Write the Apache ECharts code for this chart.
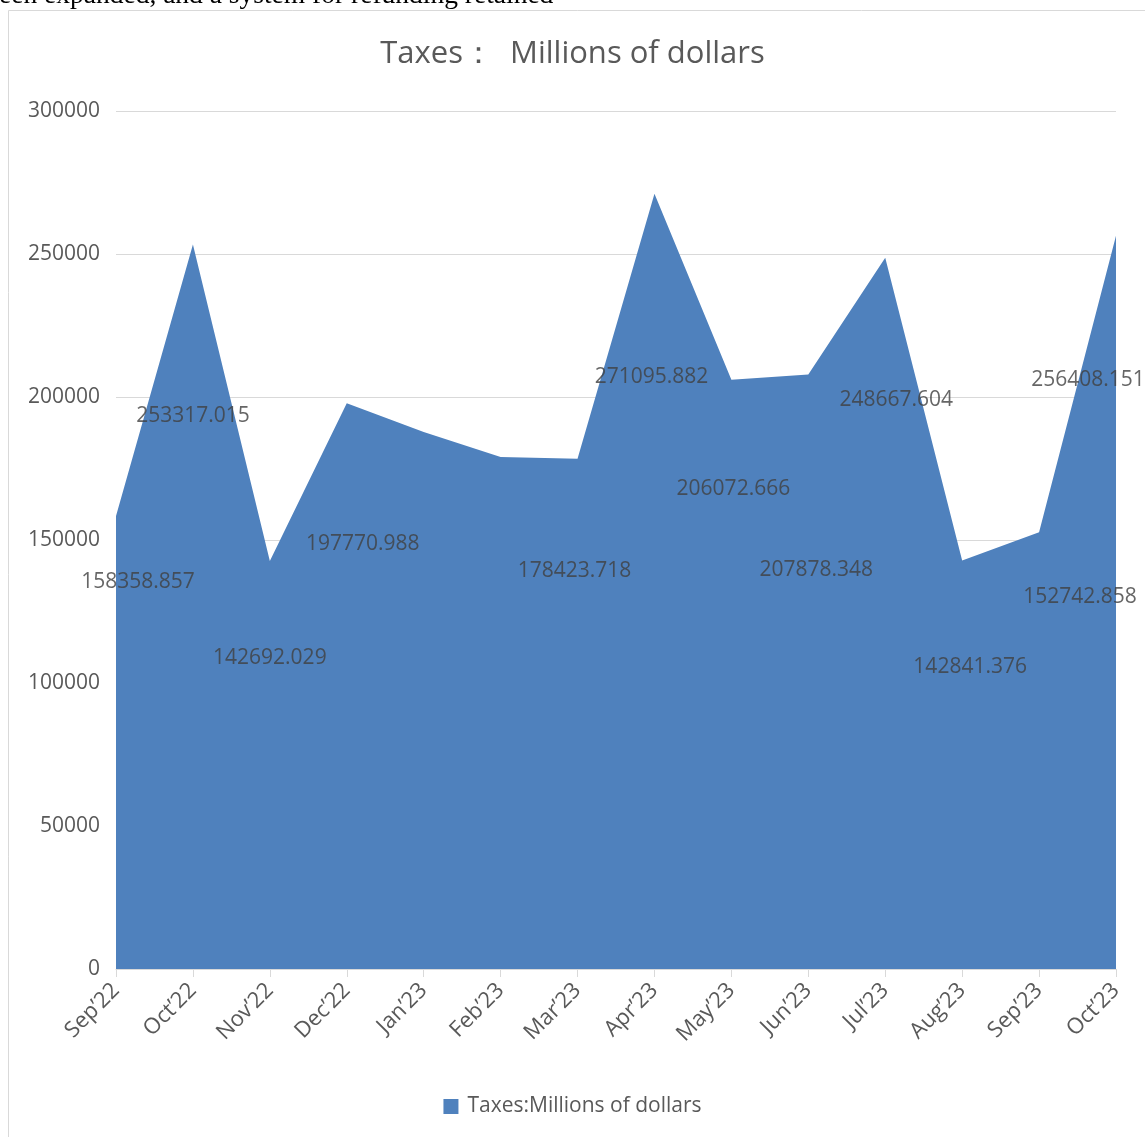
<!DOCTYPE html>
<html><head><meta charset="utf-8">
<script src="https://cdn.jsdelivr.net/npm/echarts@6/dist/echarts.min.js"></script>
<style>html,body{margin:0;padding:0;background:#fff}#c{width:1145px;height:1137px}</style>
</head><body><div id="c"></div>
<script>
const categories = ["Sep’22","Oct’22","Nov’22","Dec’22","Jan’23","Feb’23","Mar’23","Apr’23","May’23","Jun’23","Jul’23","Aug’23","Sep’23","Oct’23"];
const taxes = [158358.857,253317.015,142692.029,197770.988,187800,179000,178423.718,271095.882,206072.666,207878.348,248667.604,142841.376,152742.858,256408.151];
const yTicks = {min:0, max:300000, interval:50000};
// label placement (Excel-style), level in axis units and horizontal shift in px; null = label hidden
const labelLevel = [135300,193400,108700,148700,null,null,139200,207000,167800,139500,199000,105600,130000,206000];
const labelShift = [22,0,0,16,0,0,-3,-3,2,8,11,8,41,-28];

const FONT = '"Open Sans","Noto Sans",sans-serif';
const chart = echarts.init(document.getElementById('c'));
const labelData = [];
categories.forEach((c,i)=>{
  if (labelLevel[i]===null) return;
  labelData.push({value:[c, labelLevel[i]], real: taxes[i],
    label:{offset:[labelShift[i],0]}});
});
chart.setOption({
  animation:false,
  title:{text:'Taxes：  Millions of dollars', left:'center', top:34,
    textStyle:{fontFamily:FONT, fontSize:31, fontWeight:'normal', color:'#595959'}},
  legend:{bottom:15, left:'center', itemWidth:15, itemHeight:15, icon:'rect', itemGap:6,
    textStyle:{fontFamily:FONT, fontSize:21, color:'#595959', padding:[0,0,0,4]},
    data:['Taxes:Millions of dollars']},
  graphic:[
    {type:'rect', shape:{x:8.5,y:10.5,width:1200,height:1200}, style:{fill:'none', stroke:'#d9d9d9', lineWidth:1}, silent:true},
    {type:'text', x:-1, y:-18, style:{text:'een expanded, and a system for refunding retained', font:'27.5px "Liberation Serif", serif', fill:'#000', verticalAlign:'top'}}
  ],
  grid:{left:116, right:29, top:111, bottom:168, containLabel:false},
  xAxis:{type:'category', data:categories, boundaryGap:false,
    axisLine:{lineStyle:{color:'#d9d9d9', width:1}},
    axisTick:{show:true, length:8, lineStyle:{color:'#d9d9d9'}},
    axisLabel:{rotate:45, fontFamily:FONT, fontSize:22, color:'#595959', margin:18}},
  yAxis:{type:'value', min:yTicks.min, max:yTicks.max, interval:yTicks.interval,
    axisLine:{show:false}, axisTick:{show:false},
    splitLine:{lineStyle:{color:'#d9d9d9', width:1}},
    axisLabel:{fontFamily:FONT, fontSize:21, color:'#595959', margin:16, formatter:v=>String(v)}},
  series:[
    {name:'Taxes:Millions of dollars', type:'line', data:taxes, symbol:'none',
     lineStyle:{width:0}, itemStyle:{color:'#4f81bd'},
     areaStyle:{color:'#4f81bd', opacity:1}, z:2},
    {type:'scatter', data:labelData, symbolSize:0, z:5, silent:true,
     label:{show:true, position:'inside', fontFamily:FONT, fontSize:21, color:'#404040',
       formatter:p=>String(p.data.real)}}
  ]
});
</script></body></html>
